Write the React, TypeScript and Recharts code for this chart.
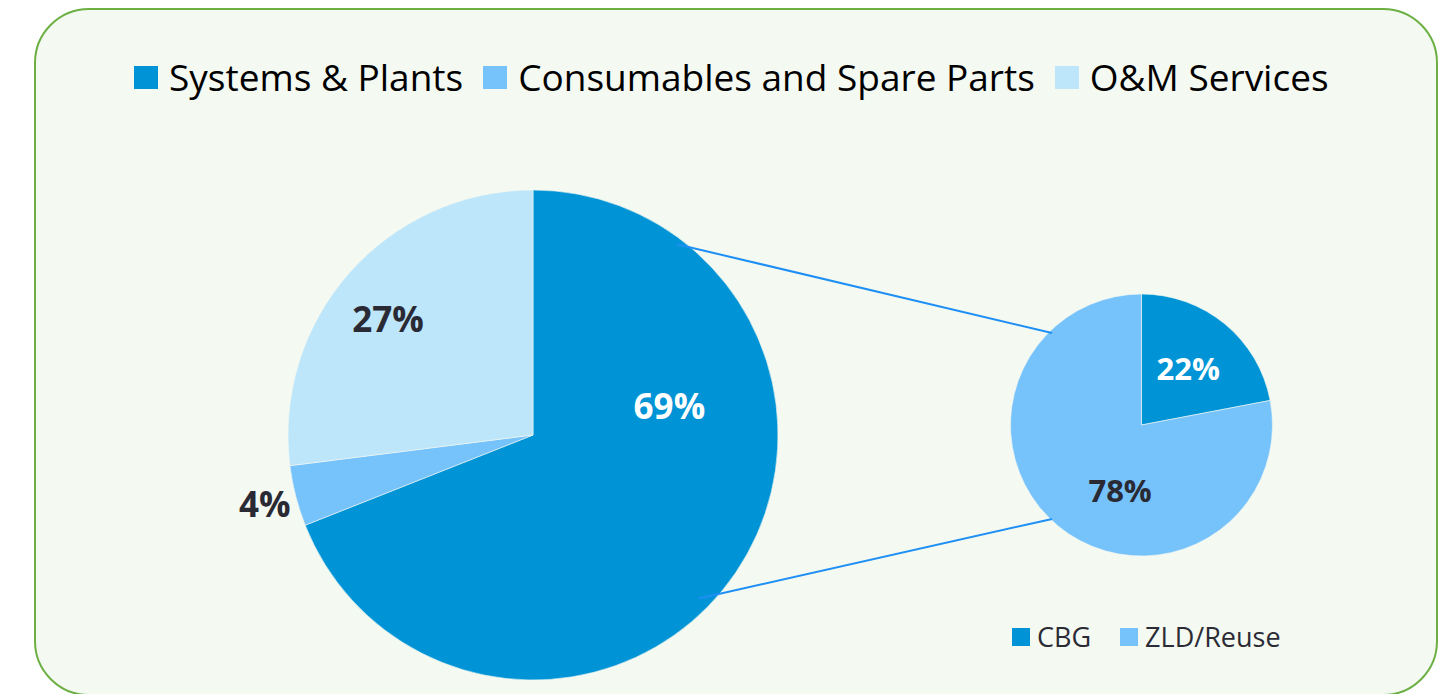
import { PieChart, Pie, Cell, Legend } from 'recharts';

// main pie: revenue split by segment
const segmentNames = ['Systems & Plants', 'Consumables and Spare Parts', 'O&M Services'];
const segmentShares = [69, 4, 27];
const segmentColors = ['#0094d6', '#76c2fb', '#bde6fa'];

// secondary pie: breakdown of Systems & Plants
const splitNames = ['CBG', 'ZLD/Reuse'];
const splitShares = [22, 78];
const splitColors = ['#0094d6', '#76c2fb'];

const W = 1442;
const H = 694;
const FONT = '"Open Sans", "Noto Sans", sans-serif';
const RAD = Math.PI / 180;

const bigPie = { cx: 533, cy: 435, r: 245 };
const smallPie = { cx: 1141.5, cy: 425, r: 131 };

// where Excel put each data label (radius as fraction of outer radius, optional angle override)
const bigLabelPlacement = [
  { r: 0.57, angle: 12.4, color: '#ffffff' },
  { r: 1.13, color: '#2a2a35' },
  { r: 0.76, angle: 141.1, color: '#2a2a35' },
];
const smallLabelPlacement = [
  { r: 0.56, color: '#ffffff' },
  { r: 0.52, angle: -108.3, color: '#2a2a35' },
];

// connector lines between the two pies (angles in degrees, counter-clockwise from 3 o'clock)
const connectors = [
  { fromAngle: 53, fromR: 0.975, toAngle: 134.2, toR: 0.98 },
  { fromAngle: -44.6, fromR: 0.95, toAngle: -133.6, toR: 0.99 },
];

const segmentData = segmentNames.map((name, i) => ({ name, value: segmentShares[i] }));
const splitData = splitNames.map((name, i) => ({ name, value: splitShares[i] }));

const polar = (cx: number, cy: number, r: number, angle: number) => ({
  x: cx + r * Math.cos(-angle * RAD),
  y: cy + r * Math.sin(-angle * RAD),
});

const makeLabel = (placement: any[], fontSize: number) => (props: any) => {
  const { cx, cy, midAngle, outerRadius, index, value } = props;
  const p = placement[index];
  const { x, y } = polar(cx, cy, outerRadius * p.r, p.angle ?? midAngle);
  return (
    <text
      x={x}
      y={y}
      textAnchor="middle"
      dominantBaseline="central"
      fill={p.color}
      fontFamily={FONT}
      fontSize={fontSize}
      fontWeight={700}
    >
      {value}%
    </text>
  );
};

// legend keeps the data order (Recharts sorts by name otherwise)
const inOrder = (payload: any[], names: string[]) =>
  [...(payload || [])].sort((a, b) => names.indexOf(a.value) - names.indexOf(b.value));

const TopLegend = ({ payload }: any) => (
  <div style={{ display: 'flex', alignItems: 'center', fontFamily: FONT, fontSize: 37, color: '#000', whiteSpace: 'nowrap', lineHeight: '40px' }}>
    {inOrder(payload, segmentNames).map((entry: any) => (
      <div key={entry.value} style={{ display: 'flex', alignItems: 'center', marginRight: 20 }}>
        <span style={{ width: 24, height: 23, background: entry.color, marginRight: 11, display: 'inline-block' }} />
        <span>{entry.value}</span>
      </div>
    ))}
  </div>
);

const SmallLegend = ({ payload }: any) => (
  <div style={{ display: 'flex', alignItems: 'center', fontFamily: FONT, fontSize: 27, color: '#2b2b36', whiteSpace: 'nowrap', lineHeight: '30px' }}>
    {inOrder(payload, splitNames).map((entry: any) => (
      <div key={entry.value} style={{ display: 'flex', alignItems: 'center', marginRight: 29 }}>
        <span style={{ width: 18, height: 18, background: entry.color, marginRight: 7, display: 'inline-block' }} />
        <span>{entry.value}</span>
      </div>
    ))}
  </div>
);

export default function App() {
  return (
    <div style={{ position: 'absolute', left: 0, top: 0, width: W, height: H, overflow: 'hidden', background: '#ffffff' }}>
      <div
        style={{
          position: 'absolute',
          left: 34,
          top: 8,
          width: 1404,
          height: 688,
          boxSizing: 'border-box',
          border: '2.5px solid #6cb044',
          borderRadius: 55,
          background: '#f4f9f1',
        }}
      />

      <div style={{ position: 'absolute', left: 0, top: 0 }}>
        <PieChart width={W} height={H} margin={{ top: 0, right: 0, bottom: 0, left: 0 }}>
          <Pie
            data={segmentData}
            dataKey="value"
            nameKey="name"
            cx={bigPie.cx}
            cy={bigPie.cy}
            outerRadius={bigPie.r}
            startAngle={90}
            endAngle={-270}
            stroke="#f4f9f1"
            strokeWidth={0.6}
            label={makeLabel(bigLabelPlacement, 35)}
            labelLine={false}
            isAnimationActive={false}
          >
            {segmentData.map((d, i) => (
              <Cell key={d.name} fill={segmentColors[i]} />
            ))}
          </Pie>
          <Legend
            layout="vertical"
            align="right"
            verticalAlign="top"
            content={TopLegend}
            wrapperStyle={{ left: 134, top: 57, right: 'auto', width: 1280 }}
          />
        </PieChart>
      </div>

      <div style={{ position: 'absolute', left: 0, top: 0 }}>
        <PieChart width={W} height={H} margin={{ top: 0, right: 0, bottom: 0, left: 0 }}>
          <Pie
            data={splitData}
            dataKey="value"
            nameKey="name"
            cx={smallPie.cx}
            cy={smallPie.cy}
            outerRadius={smallPie.r}
            startAngle={90}
            endAngle={-270}
            stroke="#f4f9f1"
            strokeWidth={0.6}
            label={makeLabel(smallLabelPlacement, 31)}
            labelLine={false}
            isAnimationActive={false}
          >
            {splitData.map((d, i) => (
              <Cell key={d.name} fill={splitColors[i]} />
            ))}
          </Pie>
          <Legend
            layout="vertical"
            align="right"
            verticalAlign="top"
            content={SmallLegend}
            wrapperStyle={{ left: 1012, top: 622, right: 'auto', width: 320 }}
          />
        </PieChart>
      </div>

      <svg width={W} height={H} style={{ position: 'absolute', left: 0, top: 0, pointerEvents: 'none' }}>
        {connectors.map((c, i) => {
          const a = polar(bigPie.cx, bigPie.cy, bigPie.r * c.fromR, c.fromAngle);
          const b = polar(smallPie.cx, smallPie.cy, smallPie.r * c.toR, c.toAngle);
          return <line key={i} x1={a.x} y1={a.y} x2={b.x} y2={b.y} stroke="#1e8ff5" strokeWidth={2} />;
        })}
      </svg>
    </div>
  );
}
